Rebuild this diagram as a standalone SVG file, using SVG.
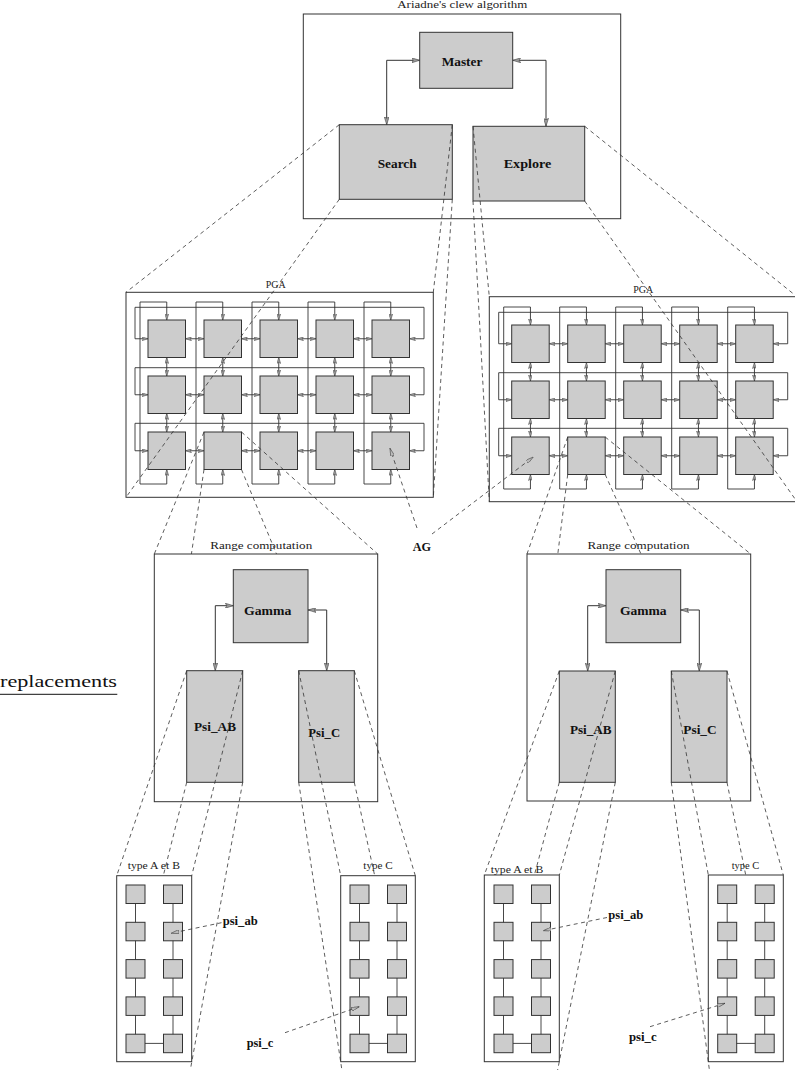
<svg xmlns="http://www.w3.org/2000/svg" xmlns:xlink="http://www.w3.org/1999/xlink" width="795" height="1070" viewBox="0 0 795 1070">
<style>
.box{fill:none;stroke:#333;stroke-width:1}
.node{fill:#cccccc;stroke:#333;stroke-width:1}
.ln{fill:none;stroke:#333;stroke-width:0.9}
.dbl{marker-start:url(#ah);marker-end:url(#ah)}
.big{fill:none;stroke:#333;stroke-width:1;marker-start:url(#bh);marker-end:url(#bh)}
.dash{fill:none;stroke:#333;stroke-width:0.8;stroke-dasharray:4 3.5}
.pt{marker-end:url(#oa)}
.lbl{font-family:"Liberation Serif",serif;font-weight:bold;font-size:12px;fill:#111;text-anchor:middle}
.ttl{font-family:"Liberation Serif",serif;font-size:10px;fill:#222;text-anchor:middle}
</style>
<defs>
<marker id="ah" viewBox="0 0 6 4" refX="6" refY="2" markerWidth="6" markerHeight="4" markerUnits="userSpaceOnUse" orient="auto-start-reverse"><path d="M0,0 L6,2 L0,4 L1.2,2 z" fill="#999" stroke="#333" stroke-width="0.4"/></marker>
<marker id="bh" viewBox="0 0 8 5" refX="8" refY="2.5" markerWidth="8" markerHeight="5" markerUnits="userSpaceOnUse" orient="auto-start-reverse"><path d="M0,0 L8,2.5 L0,5 L1.5,2.5 z" fill="#999" stroke="#333" stroke-width="0.5"/></marker>
<marker id="oa" viewBox="0 0 8 4" refX="8" refY="2" markerWidth="8" markerHeight="4" markerUnits="userSpaceOnUse" orient="auto"><path d="M0,0 L8,2 L0,4 z" fill="#bbb" stroke="#333" stroke-width="0.5"/></marker>
<g id="pgaGrid">
<g class="ln">
<polyline class="dbl" points="0,18.75 -13,18.75 -13,-12.7 276,-12.7 276,18.75 261.5,18.75"/>
<polyline class="dbl" points="0,74.75 -13,74.75 -13,47.7 276,47.7 276,74.75 261.5,74.75"/>
<polyline class="dbl" points="0,130.75 -13,130.75 -13,103.3 276,103.3 276,130.75 261.5,130.75"/>
<polyline class="dbl" points="18.75,0 18.75,-18 -8,-18 -8,164 18.75,164 18.75,149.5"/>
<polyline class="dbl" points="74.75,0 74.75,-18 48,-18 48,164 74.75,164 74.75,149.5"/>
<polyline class="dbl" points="130.75,0 130.75,-18 104,-18 104,164 130.75,164 130.75,149.5"/>
<polyline class="dbl" points="186.75,0 186.75,-18 160,-18 160,164 186.75,164 186.75,149.5"/>
<polyline class="dbl" points="242.75,0 242.75,-18 216,-18 216,164 242.75,164 242.75,149.5"/>
<line class="dbl" x1="37.5" y1="18.75" x2="56" y2="18.75"/>
<line class="dbl" x1="93.5" y1="18.75" x2="112" y2="18.75"/>
<line class="dbl" x1="149.5" y1="18.75" x2="168" y2="18.75"/>
<line class="dbl" x1="205.5" y1="18.75" x2="224" y2="18.75"/>
<line class="dbl" x1="37.5" y1="74.75" x2="56" y2="74.75"/>
<line class="dbl" x1="93.5" y1="74.75" x2="112" y2="74.75"/>
<line class="dbl" x1="149.5" y1="74.75" x2="168" y2="74.75"/>
<line class="dbl" x1="205.5" y1="74.75" x2="224" y2="74.75"/>
<line class="dbl" x1="37.5" y1="130.75" x2="56" y2="130.75"/>
<line class="dbl" x1="93.5" y1="130.75" x2="112" y2="130.75"/>
<line class="dbl" x1="149.5" y1="130.75" x2="168" y2="130.75"/>
<line class="dbl" x1="205.5" y1="130.75" x2="224" y2="130.75"/>
<line class="dbl" x1="18.75" y1="37.5" x2="18.75" y2="56"/>
<line class="dbl" x1="74.75" y1="37.5" x2="74.75" y2="56"/>
<line class="dbl" x1="130.75" y1="37.5" x2="130.75" y2="56"/>
<line class="dbl" x1="186.75" y1="37.5" x2="186.75" y2="56"/>
<line class="dbl" x1="242.75" y1="37.5" x2="242.75" y2="56"/>
<line class="dbl" x1="18.75" y1="93.5" x2="18.75" y2="112"/>
<line class="dbl" x1="74.75" y1="93.5" x2="74.75" y2="112"/>
<line class="dbl" x1="130.75" y1="93.5" x2="130.75" y2="112"/>
<line class="dbl" x1="186.75" y1="93.5" x2="186.75" y2="112"/>
<line class="dbl" x1="242.75" y1="93.5" x2="242.75" y2="112"/>
</g>
<g class="node">
<rect x="0" y="0" width="37.5" height="37.5"/><rect x="56" y="0" width="37.5" height="37.5"/><rect x="112" y="0" width="37.5" height="37.5"/><rect x="168" y="0" width="37.5" height="37.5"/><rect x="224" y="0" width="37.5" height="37.5"/>
<rect x="0" y="56" width="37.5" height="37.5"/><rect x="56" y="56" width="37.5" height="37.5"/><rect x="112" y="56" width="37.5" height="37.5"/><rect x="168" y="56" width="37.5" height="37.5"/><rect x="224" y="56" width="37.5" height="37.5"/>
<rect x="0" y="112" width="37.5" height="37.5"/><rect x="56" y="112" width="37.5" height="37.5"/><rect x="112" y="112" width="37.5" height="37.5"/><rect x="168" y="112" width="37.5" height="37.5"/><rect x="224" y="112" width="37.5" height="37.5"/>
</g>
</g>
<g id="chain">
<g class="ln"><line x1="9.5" y1="9" x2="9.5" y2="158.4"/><line x1="47" y1="9" x2="47" y2="158.4"/><line x1="9.5" y1="158.4" x2="47" y2="158.4"/></g>
<g class="node">
<rect x="0" y="0" width="19" height="18.5"/><rect x="37.5" y="0" width="19" height="18.5"/>
<rect x="0" y="37.3" width="19" height="18.5"/><rect x="37.5" y="37.3" width="19" height="18.5"/>
<rect x="0" y="74.6" width="19" height="18.5"/><rect x="37.5" y="74.6" width="19" height="18.5"/>
<rect x="0" y="111.9" width="19" height="18.5"/><rect x="37.5" y="111.9" width="19" height="18.5"/>
<rect x="0" y="149.2" width="19" height="18.5"/><rect x="37.5" y="149.2" width="19" height="18.5"/>
</g>
</g>
</defs>
<rect width="795" height="1070" fill="#fff"/>

<g id="psfrag">
<text x="0" y="687.3" font-family="Liberation Serif, serif" font-size="17.5" fill="#111" textLength="117" lengthAdjust="spacingAndGlyphs">replacements</text>
<line x1="0" y1="694.3" x2="117.3" y2="694.3" stroke="#111" stroke-width="1"/>
</g>

<g id="ariadne">
<rect class="box" x="303.3" y="14" width="317.4" height="204.7"/>
<text class="ttl" x="462.3" y="8.3" font-size="11" textLength="130" lengthAdjust="spacingAndGlyphs">Ariadne's clew algorithm</text>
</g>
<g id="master"><rect class="node" x="419.7" y="32.3" width="93" height="56"/><text class="lbl" x="462" y="65.7" textLength="40.7" lengthAdjust="spacingAndGlyphs">Master</text></g>
<g id="search"><rect class="node" x="339.3" y="124.7" width="113" height="74.6"/><text class="lbl" x="397.2" y="167.7" textLength="39" lengthAdjust="spacingAndGlyphs">Search</text></g>
<g id="explore"><rect class="node" x="473" y="126.3" width="111.7" height="74.7"/><text class="lbl" x="527.5" y="167.7" textLength="47.7" lengthAdjust="spacingAndGlyphs">Explore</text></g>

<g id="pga-left">
<rect class="box" x="126" y="292.3" width="307.3" height="205"/>
<text class="ttl" x="275.7" y="288" font-size="8.5" textLength="20" lengthAdjust="spacingAndGlyphs">PGA</text>
<use xlink:href="#pgaGrid" href="#pgaGrid" x="148" y="320"/>
</g>
<g id="pga-right">
<rect class="box" x="489.3" y="296.7" width="310" height="205"/>
<text class="ttl" x="643.3" y="292.7" font-size="8.5" textLength="20" lengthAdjust="spacingAndGlyphs">PGA</text>
<use xlink:href="#pgaGrid" href="#pgaGrid" x="511.7" y="325"/>
</g>

<g id="ag"><text class="lbl" x="421.8" y="550.7" textLength="18.3" lengthAdjust="spacingAndGlyphs">AG</text></g>

<g id="range-left">
<rect class="box" x="154.3" y="554" width="223.4" height="247.7"/>
<text class="ttl" x="261.2" y="549" font-size="11.5" textLength="102" lengthAdjust="spacingAndGlyphs">Range computation</text>
</g>
<g id="gamma-left"><rect class="node" x="233.3" y="569.7" width="74.7" height="73"/><text class="lbl" x="267.7" y="615.3" textLength="47.3" lengthAdjust="spacingAndGlyphs">Gamma</text></g>
<g id="psiAB-left"><rect class="node" x="186.7" y="670.7" width="56" height="111.6"/><text class="lbl" x="215" y="730.7" textLength="42" lengthAdjust="spacingAndGlyphs">Psi_AB</text></g>
<g id="psiC-left"><rect class="node" x="298.7" y="670.7" width="55.6" height="111.6"/><text class="lbl" x="324.2" y="736.7" textLength="31.7" lengthAdjust="spacingAndGlyphs">Psi_C</text></g>

<g id="range-right">
<rect class="box" x="527" y="554" width="223.7" height="247"/>
<text class="ttl" x="638.5" y="549" font-size="11.5" textLength="102" lengthAdjust="spacingAndGlyphs">Range computation</text>
</g>
<g id="gamma-right"><rect class="node" x="606" y="569.7" width="74.7" height="73"/><text class="lbl" x="643.3" y="615.3" textLength="46.7" lengthAdjust="spacingAndGlyphs">Gamma</text></g>
<g id="psiAB-right"><rect class="node" x="559.3" y="671" width="56" height="111.3"/><text class="lbl" x="590.8" y="734" textLength="41.7" lengthAdjust="spacingAndGlyphs">Psi_AB</text></g>
<g id="psiC-right"><rect class="node" x="671.3" y="671" width="55.7" height="111.3"/><text class="lbl" x="700" y="734" textLength="33.3" lengthAdjust="spacingAndGlyphs">Psi_C</text></g>

<g id="typeAB-left">
<rect class="box" x="116.7" y="875.7" width="75" height="186"/>
<text class="ttl" x="153.8" y="869.4" font-size="9" textLength="52.3" lengthAdjust="spacingAndGlyphs">type A et B</text>
<use xlink:href="#chain" href="#chain" x="126" y="885"/>
</g>
<g id="typeC-left">
<rect class="box" x="340.7" y="875.7" width="74.6" height="186"/>
<text class="ttl" x="378" y="869.4" font-size="9" textLength="29.3" lengthAdjust="spacingAndGlyphs">type C</text>
<use xlink:href="#chain" href="#chain" x="350" y="885"/>
</g>
<g id="typeAB-right">
<rect class="box" x="484.3" y="875" width="75" height="186.7"/>
<text class="ttl" x="517" y="873.3" font-size="9" textLength="52.6" lengthAdjust="spacingAndGlyphs">type A et B</text>
<use xlink:href="#chain" href="#chain" x="494" y="885"/>
</g>
<g id="typeC-right">
<rect class="box" x="708.3" y="875" width="75" height="186.7"/>
<text class="ttl" x="745.5" y="869.4" font-size="9" textLength="27.6" lengthAdjust="spacingAndGlyphs">type C</text>
<use xlink:href="#chain" href="#chain" x="717.7" y="885"/>
</g>

<g id="labels-psi">
<text class="lbl" x="240.2" y="924.5" textLength="35" lengthAdjust="spacingAndGlyphs">psi_ab</text>
<text class="lbl" x="260" y="1046.5" textLength="26.7" lengthAdjust="spacingAndGlyphs">psi_c</text>
<text class="lbl" x="625.8" y="919" textLength="35" lengthAdjust="spacingAndGlyphs">psi_ab</text>
<text class="lbl" x="642.8" y="1041" textLength="27.7" lengthAdjust="spacingAndGlyphs">psi_c</text>
</g>

<g id="connectors">
<polyline class="big" points="419.7,60.3 386.7,60.3 386.7,124.7"/>
<polyline class="big" points="512.7,60.3 546,60.3 546,126.3"/>
<polyline class="big" points="233.3,605.7 215.3,605.7 215.3,670.7"/>
<polyline class="big" points="308,610 326.7,610 326.7,670.7"/>
<polyline class="big" points="606,605.7 587.7,605.7 587.7,671"/>
<polyline class="big" points="680.7,610 699.3,610 699.3,671"/>
<g class="dash">
<path d="M339.3,124.7 L126,292.3"/>
<path d="M339.3,199.3 L126,497.3"/>
<path d="M452.3,124.7 L433.3,292.3"/>
<path d="M452.3,199.3 L433.3,497.3"/>
<path d="M473,126.3 L489.3,296.7"/>
<path d="M473,201 L489.3,501.7"/>
<path d="M584.7,126.3 L797,296.7"/>
<path d="M584.7,201 L797,501.7"/>
<path d="M204,432 L154.3,554"/>
<path d="M241.5,432 L377.7,554"/>
<path d="M204,469.5 L191.4,554"/>
<path d="M241.5,469.5 L276.5,554"/>
<path d="M567.7,437 L527,554"/>
<path d="M605.2,437 L750.7,554"/>
<path d="M567.7,474.5 L557.8,554"/>
<path d="M605.2,474.5 L641,554"/>
<path d="M186.7,670.7 L116.7,875.7"/>
<path d="M242.7,670.7 L191.7,875.7"/>
<path d="M186.7,782.3 L163.3,875.7"/>
<path d="M242.7,782.3 L190.3,1070"/>
<path d="M298.7,670.7 L340.7,875.7"/>
<path d="M354.3,670.7 L415.3,875.7"/>
<path d="M298.7,782.3 L341.9,1070"/>
<path d="M354.3,782.3 L374.7,875.7"/>
<path d="M559.3,671 L484.3,875"/>
<path d="M615.3,671 L559.3,875"/>
<path d="M559.3,782.3 L534.4,875"/>
<path d="M615.3,782.3 L557.6,1070"/>
<path d="M671.3,671 L708.3,875"/>
<path d="M727,671 L783.3,875"/>
<path d="M671.3,782.3 L709.4,1070"/>
<path d="M727,782.3 L745.7,875"/>
<path class="pt" d="M417,528 L390,448.3"/>
<path class="pt" d="M432,534 L533.3,457"/>
<path class="pt" d="M221.5,922.7 L171,933.3"/>
<path class="pt" d="M285,1032.7 L359.3,1006.7"/>
<path class="pt" d="M607,917.5 L543.3,930.7"/>
<path class="pt" d="M650,1026.7 L725,1003.3"/>
</g>
</g>
</svg>
